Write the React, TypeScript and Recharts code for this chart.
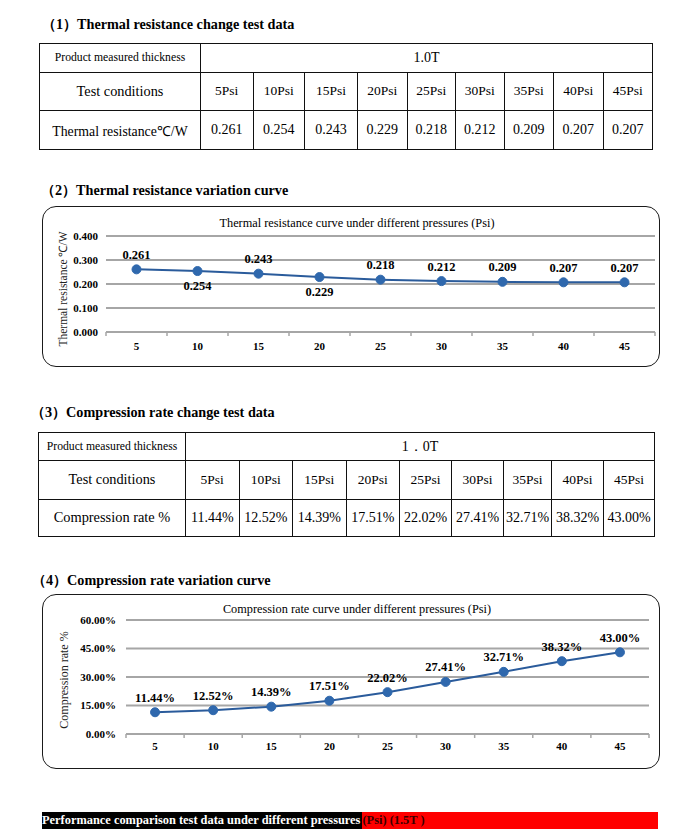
import React from "react";
import { CartesianGrid, LabelList, Line, LineChart, XAxis, YAxis } from "recharts";

// pressure steps (Psi)
const PSI = [5, 10, 15, 20, 25, 30, 35, 40, 45];
const PSI_LABELS = ["5Psi", "10Psi", "15Psi", "20Psi", "25Psi", "30Psi", "35Psi", "40Psi", "45Psi"];

// thermal resistance, ℃/W
const THERMAL_RES = [0.261, 0.254, 0.243, 0.229, 0.218, 0.212, 0.209, 0.207, 0.207];
const TR_TICKS = [0, 0.1, 0.2, 0.3, 0.4];

// compression rate, %
const COMPRESSION = [11.44, 12.52, 14.39, 17.51, 22.02, 27.41, 32.71, 38.32, 43.0];
const CR_TICKS = [0, 15, 30, 45, 60];

const THICKNESS_1 = "1.0T";
const THICKNESS_2 = "1．0T";

const FONT = '"Liberation Serif", "Times New Roman", serif';
const GRID = "#a6a6a6";
const LINE = "#2a5b9b";
const DOT = "#2f68ad";

// column widths of the two tables (px)
const T1_COLS = [161, 52.5, 51.5, 53, 49.5, 48.5, 48.5, 49.5, 49.5, 49.5];
const T2_COLS = [147, 53.5, 53.5, 53.5, 53.5, 52, 52, 48, 52, 51];

const trData = PSI.map((p, i) => ({ psi: p, value: THERMAL_RES[i] }));
const crData = PSI.map((p, i) => ({ psi: p, value: COMPRESSION[i] }));

function SectionTitle({ top, left, text }: { top: number; left: number; text: string }) {
  return (
    <div
      style={{
        position: "absolute",
        top,
        left,
        fontSize: 14.2,
        fontWeight: 700,
        lineHeight: "16px",
        whiteSpace: "nowrap",
      }}
    >
      {text}
    </div>
  );
}

function DataTable({
  left,
  top,
  cols,
  rows,
  thickness,
  rowLabel,
  values,
  labelSize,
}: {
  left: number;
  top: number;
  cols: number[];
  rows: number[];
  thickness: string;
  rowLabel: string;
  values: string[];
  labelSize: number;
}) {
  const td = (size: number): React.CSSProperties => ({
    border: "1.5px solid #111",
    padding: 0,
    textAlign: "center",
    verticalAlign: "middle",
    fontSize: size,
    whiteSpace: "nowrap",
    overflow: "hidden",
  });
  return (
    <table
      style={{
        position: "absolute",
        left,
        top,
        borderCollapse: "collapse",
        tableLayout: "fixed",
        width: cols.reduce((a, b) => a + b, 0),
        fontFamily: FONT,
      }}
    >
      <colgroup>
        {cols.map((w, i) => (
          <col key={i} style={{ width: w }} />
        ))}
      </colgroup>
      <tbody>
        <tr style={{ height: rows[0] }}>
          <td style={td(11.7)}>Product measured thickness</td>
          <td style={td(14)} colSpan={9}>
            {thickness}
          </td>
        </tr>
        <tr style={{ height: rows[1] }}>
          <td style={td(14.3)}>Test conditions</td>
          {PSI_LABELS.map((l) => (
            <td key={l} style={td(13.5)}>
              {l}
            </td>
          ))}
        </tr>
        <tr style={{ height: rows[2] }}>
          <td style={td(labelSize)}>{rowLabel}</td>
          {values.map((v, i) => (
            <td key={i} style={td(14)}>
              {v}
            </td>
          ))}
        </tr>
      </tbody>
    </table>
  );
}

// x tick: label at the point, small tick marks at the category boundaries (Excel style)
function bandTick(half: number, baseline: number) {
  return (props: any) => {
    const { x, y, payload, index } = props;
    return (
      <g>
        {index === 0 && <line x1={x - half} x2={x - half} y1={y} y2={y + 4} stroke={GRID} strokeWidth={1.5} />}
        <line x1={x + half} x2={x + half} y1={y} y2={y + 4} stroke={GRID} strokeWidth={1.5} />
        <text x={x} y={y + baseline} textAnchor="middle" fontSize={11} fontWeight={700} fill="#000" fontFamily={FONT}>
          {payload.value}
        </text>
      </g>
    );
  };
}

function pointLabel(fmt: (v: number) => string, below: Set<number>) {
  return (props: any) => {
    const vb = props.viewBox || {};
    const x = typeof props.x === "number" ? props.x : vb.x + (vb.width || 0) / 2;
    const y = typeof props.y === "number" ? props.y : vb.y + (vb.height || 0) / 2;
    const dy = below.has(props.index) ? 15 : -14.5;
    return (
      <text
        x={x}
        y={y + dy}
        textAnchor="middle"
        dominantBaseline="central"
        fontSize={12.5}
        fontWeight={700}
        fill="#000"
        fontFamily={FONT}
      >
        {fmt(Number(props.value))}
      </text>
    );
  };
}

function ChartBox({ top, height, title, titleY }: { top: number; height: number; title: string; titleY: number }) {
  return (
    <>
      <div
        style={{
          position: "absolute",
          left: 42,
          top,
          width: 618,
          height,
          border: "1.5px solid #1a1a1a",
          borderRadius: 14,
          boxSizing: "border-box",
        }}
      />
      <div
        style={{
          position: "absolute",
          left: 42,
          width: 630,
          top: titleY - 7,
          lineHeight: "14px",
          textAlign: "center",
          fontSize: 12.3,
          whiteSpace: "nowrap",
        }}
      >
        {title}
      </div>
    </>
  );
}

function AxisTitle({ cx, cy, text, size }: { cx: number; cy: number; text: string; size: number }) {
  return (
    <div
      style={{
        position: "absolute",
        left: cx,
        top: cy,
        transform: "translate(-50%, -50%) rotate(-90deg)",
        fontSize: size,
        color: "#222",
        whiteSpace: "nowrap",
        lineHeight: "14px",
      }}
    >
      {text}
    </div>
  );
}

export default function App() {
  const tick = { fontSize: 11, fontWeight: 700, fill: "#000", fontFamily: FONT };
  return (
    <div
      style={{
        position: "absolute",
        left: 0,
        top: 0,
        width: 700,
        height: 838,
        background: "#fff",
        overflow: "hidden",
        fontFamily: FONT,
        color: "#000",
      }}
    >
      <SectionTitle top={16} left={42} text="（1）Thermal resistance change test data" />
      <DataTable
        left={39}
        top={43}
        cols={T1_COLS}
        rows={[28.5, 38.5, 39]}
        thickness={THICKNESS_1}
        rowLabel="Thermal resistance℃/W"
        values={THERMAL_RES.map((v) => v.toFixed(3))}
        labelSize={13.8}
      />

      <SectionTitle top={182} left={41} text="（2）Thermal resistance variation curve" />
      <ChartBox top={206} height={161} title="Thermal resistance curve under different pressures (Psi)" titleY={222.5} />
      <AxisTitle cx={62.5} cy={289} text="Thermal resistance ℃/W" size={11.5} />
      <div style={{ position: "absolute", left: 42, top: 206 }}>
        <LineChart width={618} height={160} data={trData} margin={{ top: 30, right: 5, left: 0, bottom: 0 }}>
          <CartesianGrid vertical={false} stroke={GRID} strokeWidth={2} />
          <XAxis
            dataKey="psi"
            type="number"
            domain={[2.5, 47.5]}
            ticks={PSI}
            interval={0}
            height={34}
            axisLine={{ stroke: GRID, strokeWidth: 2 }}
            tickLine={false}
            tickSize={0}
            tickMargin={0}
            tick={bandTick(549 / 18, 18)}
          />
          <YAxis
            type="number"
            domain={[0, 0.4]}
            ticks={TR_TICKS}
            width={64}
            axisLine={false}
            tickLine={false}
            tick={tick}
            tickFormatter={(v: number) => v.toFixed(3)}
          />
          <Line
            dataKey="value"
            stroke={LINE}
            strokeWidth={2}
            dot={{ r: 4.5, fill: DOT, stroke: DOT, strokeWidth: 1 }}
            isAnimationActive={false}
          >
            <LabelList dataKey="value" content={pointLabel((v) => v.toFixed(3), new Set([1, 3]))} />
          </Line>
        </LineChart>
      </div>

      <SectionTitle top={404} left={31} text="（3）Compression rate change test data" />
      <DataTable
        left={38}
        top={432}
        cols={T2_COLS}
        rows={[28, 38.5, 37.5]}
        thickness={THICKNESS_2}
        rowLabel="Compression rate %"
        values={COMPRESSION.map((v) => v.toFixed(2) + "%")}
        labelSize={14.4}
      />

      <SectionTitle top={572} left={32} text="（4）Compression rate variation curve" />
      <ChartBox top={594} height={175} title="Compression rate curve under different pressures (Psi)" titleY={609} />
      <AxisTitle cx={64} cy={680} text="Compression rate %" size={12} />
      <div style={{ position: "absolute", left: 42, top: 594 }}>
        <LineChart width={618} height={174} data={crData} margin={{ top: 26, right: 11, left: 0, bottom: 0 }}>
          <CartesianGrid vertical={false} stroke={GRID} strokeWidth={2} />
          <XAxis
            dataKey="psi"
            type="number"
            domain={[2.5, 47.5]}
            ticks={PSI}
            interval={0}
            height={34}
            axisLine={{ stroke: GRID, strokeWidth: 2 }}
            tickLine={false}
            tickSize={0}
            tickMargin={0}
            tick={bandTick(523 / 18, 16)}
          />
          <YAxis
            type="number"
            domain={[0, 60]}
            ticks={CR_TICKS}
            width={84}
            axisLine={false}
            tickLine={false}
            tickMargin={4}
            tick={tick}
            tickFormatter={(v: number) => v.toFixed(2) + "%"}
          />
          <Line
            dataKey="value"
            stroke={LINE}
            strokeWidth={2}
            dot={{ r: 4.5, fill: DOT, stroke: DOT, strokeWidth: 1 }}
            isAnimationActive={false}
          >
            <LabelList dataKey="value" content={pointLabel((v) => v.toFixed(2) + "%", new Set())} />
          </Line>
        </LineChart>
      </div>

      <div
        style={{
          position: "absolute",
          left: 42,
          top: 812,
          width: 616,
          height: 17,
          background: "#ff0000",
          display: "flex",
          alignItems: "stretch",
          fontSize: 12.4,
          lineHeight: "17px",
          whiteSpace: "nowrap",
        }}
      >
        <span style={{ background: "#000", color: "#fff", fontWeight: 700, paddingRight: 2 }}>
          Performance comparison test data under different pressures
        </span>
        <span style={{ color: "#3a0000", fontWeight: 700 }}>(Psi) (1.5T )</span>
      </div>
    </div>
  );
}
